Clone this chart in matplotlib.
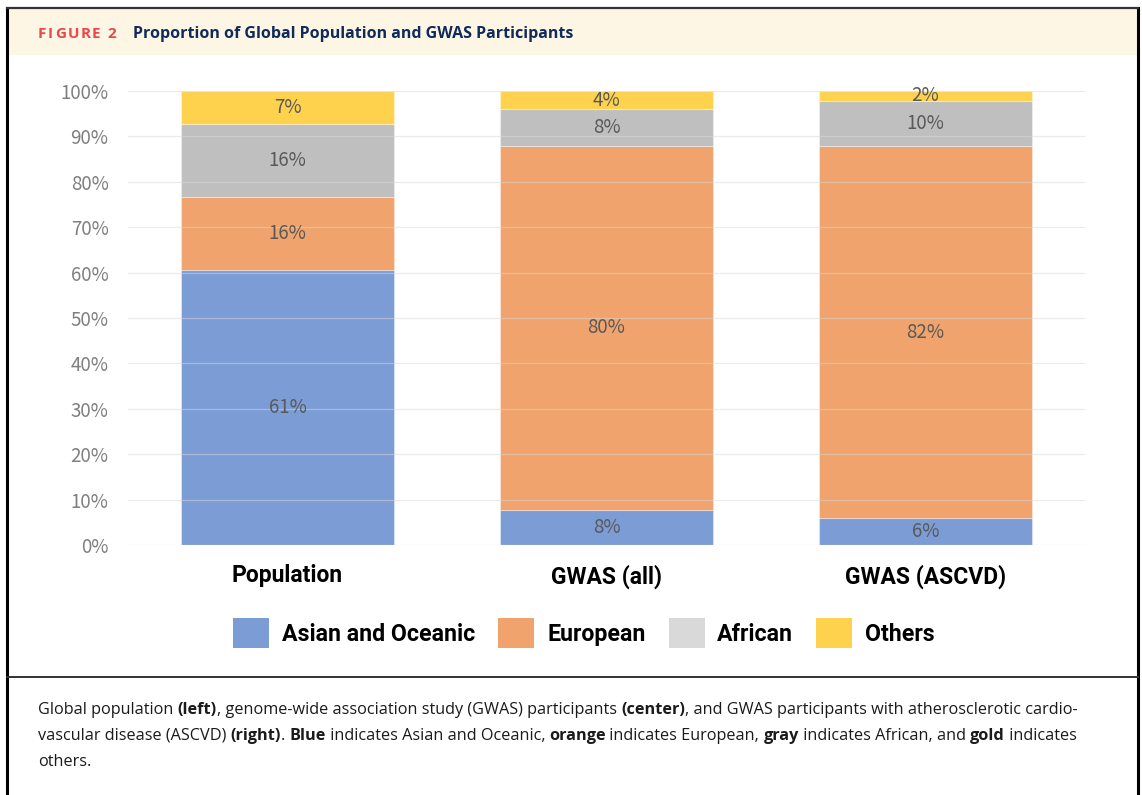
import matplotlib
matplotlib.use('Agg')
import matplotlib.pyplot as plt
from matplotlib.patches import Patch, Rectangle
from matplotlib.lines import Line2D
import numpy as np

# data (percent of each group)
groups = ['Population', 'GWAS (all)', 'GWAS (ASCVD)']
series = ['Asian and Oceanic', 'European', 'African', 'Others']
asian = [60.6, 7.7, 5.9]
european = [16.1, 80.2, 82.0]
african = [16.0, 8.1, 9.9]
others = [7.3, 4.0, 2.2]

bar_colors = ['#7B9CD5', '#F0A36D', '#BFBFBF', '#FFD24D']
legend_colors = ['#7B9CD5', '#F0A36D', '#D9D9D9', '#FFD24D']

W, H = 1142, 795
fig = plt.figure(figsize=(W / 100, H / 100), dpi=100)

narrow = ['Liberation Sans Narrow', 'Roboto', 'DejaVu Sans']
jp = ['Noto Sans CJK JP', 'DejaVu Sans']


def fx(px):
    return px / W


def fy(py):
    return 1 - py / H


# frame and header band
fig.add_artist(Rectangle((fx(9), fy(55)), fx(1128), 46 / H, transform=fig.transFigure,
                         facecolor='#FDF6E4', edgecolor='none'))
fig.add_artist(Line2D([fx(7), fx(7)], [0, fy(8)], color='black', lw=2.2))
fig.add_artist(Line2D([fx(1138), fx(1138)], [0, fy(8)], color='black', lw=2.2))
fig.add_artist(Line2D([fx(7), fx(1138)], [fy(8), fy(8)], color='#333333', lw=1.6))
fig.add_artist(Line2D([fx(7), fx(1138)], [fy(677), fy(677)], color='#333333', lw=1.4))

# chart
ax = fig.add_axes([fx(128), fy(545), (1085 - 128) / W, (545 - 91) / H])
x = np.arange(len(groups))
bottom = np.zeros(len(groups))
for name, vals, col in zip(series, [asian, european, african, others], bar_colors):
    bars = ax.bar(x, vals, width=0.668, bottom=bottom, color=col,
                  edgecolor=(1, 1, 1, 0.35), linewidth=0.8, zorder=1)
    ax.bar_label(bars, labels=[f'{v:.0f}%' for v in vals], label_type='center',
                 fontsize=13.5, color='#595959', family=jp)
    bottom += np.array(vals)

ax.set_xlim(-0.5, 2.5)
ax.set_ylim(0, 100)
ax.set_yticks(range(0, 101, 10))
ax.set_yticklabels([f'{t}%' for t in range(0, 101, 10)], color='#7F7F7F',
                   fontsize=13.5, family=jp)
ax.set_xticks(x)
ax.set_xticklabels(groups, fontsize=16.5, fontweight='bold', family=narrow)
ax.tick_params(axis='y', length=0, pad=14)
ax.tick_params(axis='x', length=0, pad=14)
for s in ax.spines.values():
    s.set_visible(False)
ax.set_axisbelow(False)
ax.grid(axis='y', color='#D9D9D9', alpha=0.5, lw=0.9, zorder=3)

handles = [Patch(facecolor=c, edgecolor='none') for c in legend_colors]
fig.legend(handles, series, loc='center', bbox_to_anchor=(fx(584), fy(633)), ncol=4,
           frameon=False, prop={'family': narrow, 'weight': 'bold', 'size': 16.7},
           handlelength=1.55, handleheight=1.55, handletextpad=0.55, columnspacing=1.0)

# header and caption text laid out piece by piece
renderer = fig.canvas.get_renderer()


def seg_width(s, **kw):
    a = fig.text(0, 0, 'x' + s + 'x', **kw)
    b = fig.text(0, 0, 'xx', **kw)
    w = a.get_window_extent(renderer).width - b.get_window_extent(renderer).width
    a.remove()
    b.remove()
    return w


def rich_line(px, py, parts, size, color, family):
    for txt, weight in parts:
        kw = dict(fontsize=size, fontweight=weight, family=family, color=color)
        fig.text(fx(px), fy(py), txt, ha='left', va='baseline', **kw)
        px += seg_width(txt, **kw)


def spaced(px, py, s, gap, **kw):
    for ch in s:
        fig.text(fx(px), fy(py), ch, ha='left', va='baseline', **kw)
        px += seg_width(ch, **kw) + gap


cap_font = ['Open Sans', 'DejaVu Sans']
spaced(38, 38, 'FIGURE 2', 1.6, fontsize=11, fontweight='bold', color='#E8474C', family=cap_font)
fig.text(fx(133), fy(38), 'Proportion of Global Population and GWAS Participants',
         ha='left', va='baseline', fontsize=11.5, fontweight='bold', color='#0F2B5B',
         family=cap_font)

n, b = 'normal', 'bold'
line1 = [('Global population ', n), ('(left)', b),
         (', genome-wide association study (GWAS) participants ', n), ('(center)', b),
         (', and GWAS participants with atherosclerotic cardio-', n)]
line2 = [('vascular disease (ASCVD) ', n), ('(right)', b), ('. ', n), ('Blue', b),
         (' indicates Asian and Oceanic, ', n), ('orange', b), (' indicates European, ', n),
         ('gray', b), (' indicates African, and ', n), ('gold', b), (' indicates', n)]
line3 = [('others.', n)]
for i, parts in enumerate([line1, line2, line3]):
    rich_line(38, 714 + 26 * i, parts, 11.7, '#1A1A1A', cap_font)

fig.savefig('out.png', dpi=100)
